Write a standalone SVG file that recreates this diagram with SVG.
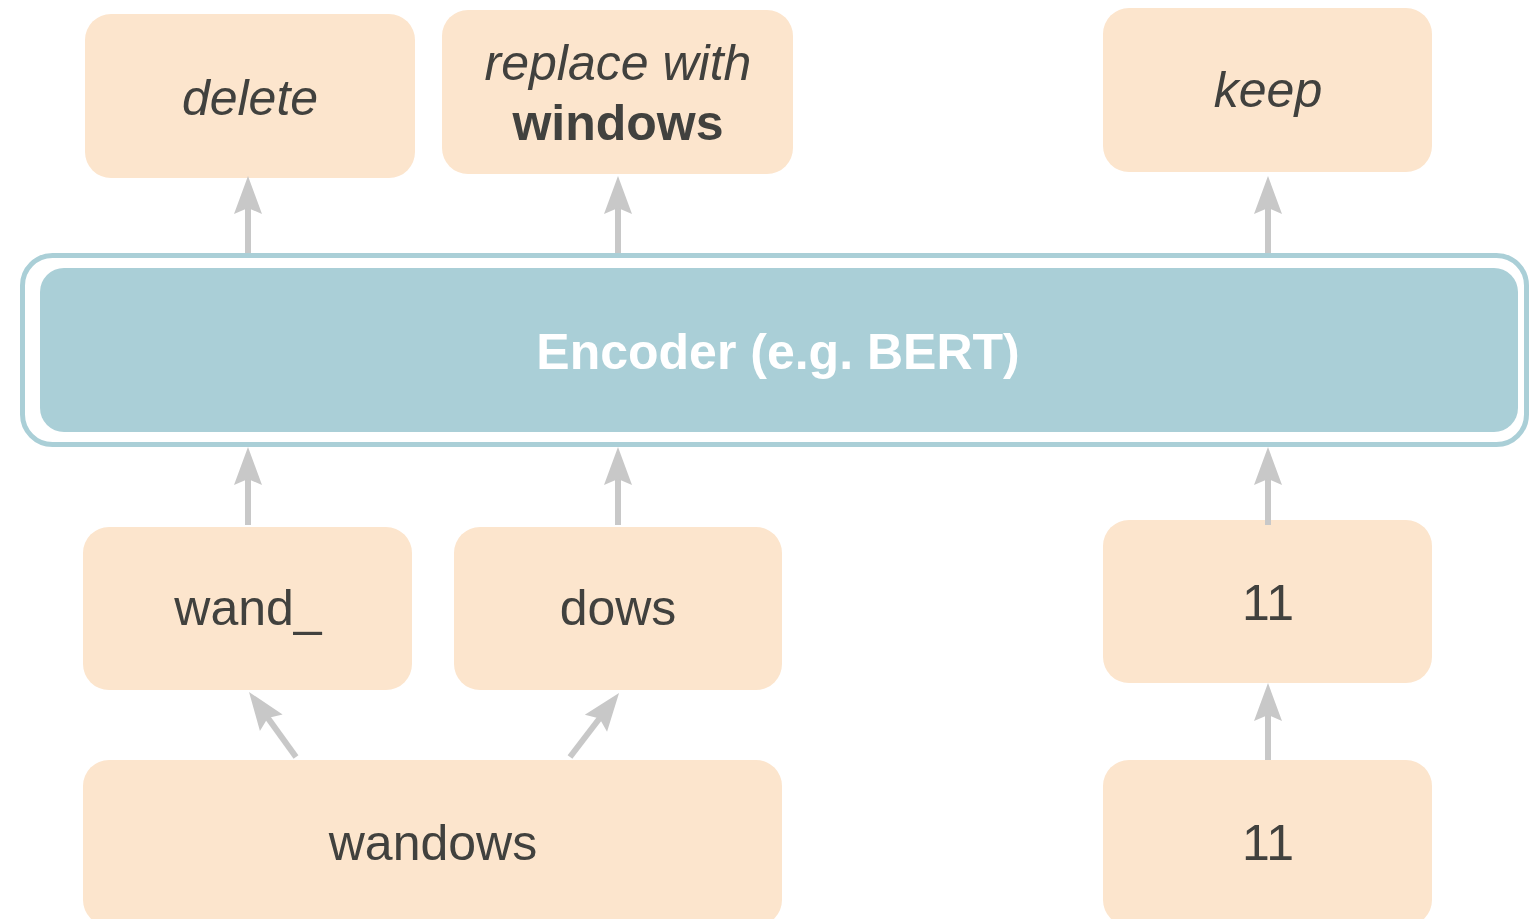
<svg xmlns="http://www.w3.org/2000/svg" width="1529" height="919" viewBox="0 0 1529 919">
<style>
.box{fill:#fce5cd;}
.t{font-family:"Liberation Sans",Arial,sans-serif;font-size:50px;fill:#41413e;text-anchor:middle;}
.i{font-style:italic;}
.b{font-weight:bold;}
.arr{stroke:#c8c8c8;stroke-width:6;fill:none;marker-end:url(#ah);}
</style>
<defs>
<marker id="ah" markerUnits="userSpaceOnUse" markerWidth="40" markerHeight="30" refX="8" refY="15" orient="auto" overflow="visible">
<path d="M0,1 L38,15 L0,29 L6,15 Z" fill="#c8c8c8"/>
</marker>
</defs>
<rect width="1529" height="919" fill="#ffffff"/>
<g id="encoder">
<rect x="22.5" y="255.5" width="1504" height="189" rx="30" ry="30" fill="none" stroke="#aacfd7" stroke-width="5"/>
<rect x="40" y="268" width="1478" height="164" rx="24" ry="24" fill="#aacfd7"/>
<text class="t b" x="778" y="369" fill="#ffffff" style="fill:#ffffff">Encoder (e.g. BERT)</text>
</g>
<g id="delete">
<rect class="box" x="85" y="14" width="330" height="164" rx="26" ry="26"/>
<text class="t i" x="250" y="115">delete</text>
</g>
<g id="replace">
<rect class="box" x="442" y="10" width="351" height="164" rx="26" ry="26"/>
<text class="t i" x="618" y="80">replace with</text>
<text class="t b" x="618" y="140">windows</text>
</g>
<g id="keep">
<rect class="box" x="1103" y="8" width="329" height="164" rx="26" ry="26"/>
<text class="t i" x="1268" y="107">keep</text>
</g>
<g id="wand">
<rect class="box" x="83" y="527" width="329" height="163" rx="26" ry="26"/>
<text class="t" x="248" y="625">wand_</text>
</g>
<g id="dows">
<rect class="box" x="454" y="527" width="328" height="163" rx="26" ry="26"/>
<text class="t" x="618" y="625">dows</text>
</g>
<g id="num-top">
<rect class="box" x="1103" y="520" width="329" height="163" rx="26" ry="26"/>
<text class="t" x="1268" y="620">11</text>
</g>
<g id="wandows">
<rect class="box" x="83" y="760" width="699" height="166" rx="26" ry="26"/>
<text class="t" x="433" y="860">wandows</text>
</g>
<g id="num-bottom">
<rect class="box" x="1103" y="760" width="329" height="166" rx="26" ry="26"/>
<text class="t" x="1268" y="860">11</text>
</g>
<g id="connectors">
<line class="arr" x1="248" y1="253" x2="248" y2="206"/>
<line class="arr" x1="618" y1="253" x2="618" y2="206"/>
<line class="arr" x1="1268" y1="253" x2="1268" y2="206"/>
<line class="arr" x1="248" y1="525" x2="248" y2="477"/>
<line class="arr" x1="618" y1="525" x2="618" y2="477"/>
<line class="arr" x1="1268" y1="525" x2="1268" y2="477"/>
<line class="arr" x1="1268" y1="760" x2="1268" y2="713"/>
<line class="arr" x1="296" y1="757" x2="266.6" y2="716.3"/>
<line class="arr" x1="570" y1="757" x2="600.8" y2="716.8"/>
</g>
</svg>
